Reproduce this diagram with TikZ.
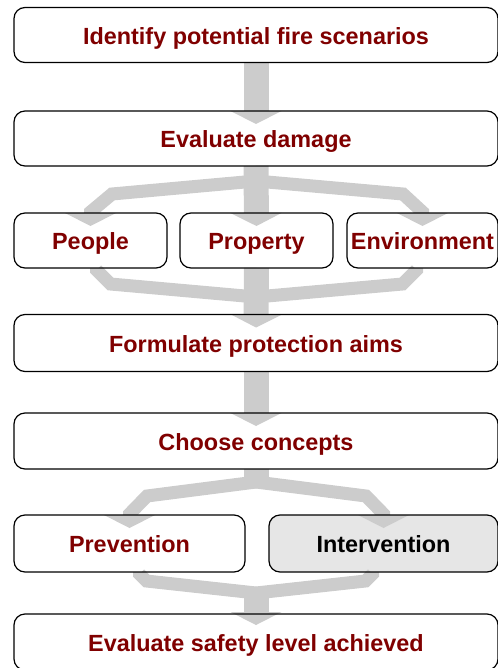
\documentclass[tikz,border=0pt]{standalone}
\usepackage{fontspec}
\setmainfont{Liberation Sans}
\usetikzlibrary{arrows.meta,positioning,calc}
\definecolor{darkred}{HTML}{800000}
\definecolor{arrowgray}{HTML}{CCCCCC}
\definecolor{boxgray}{HTML}{E6E6E6}

\begin{document}
\begin{tikzpicture}[x=1pt, y=-1pt,
  procbox/.style={fill=white, rounded corners=11pt, minimum height=55pt, inner sep=0pt, outer sep=0pt,
    text height=18.5pt, text depth=0pt, text=darkred, font=\fontsize{23.4}{27}\selectfont\bfseries},
  outline/.style={draw=black, line width=1.2pt, rounded corners=11pt},
  headtip/.style={-{Triangle[length=13pt,width=51pt,line width=0pt]}},
  shaft/.style={draw=arrowgray, line width=25pt},
  mainflow/.style={shaft, headtip},
  sideflow/.style={draw=arrowgray, line width=13pt, line join=miter},
  sidearrow/.style={sideflow, headtip}]

 \useasboundingbox (0,0) rectangle (497,668);

 %boxes
 \node[procbox, minimum width=484pt] (scen) at (256,35) {Identify potential fire scenarios};
 \node[procbox, minimum width=484pt] (damage) at (256,138.5) {Evaluate damage};
 \node[procbox, minimum width=153pt] (people) at (90.5,240.5) {People};
 \node[procbox, minimum width=153pt] (property) at (256.5,240.5) {Property};
 \node[procbox, minimum width=151pt] (environment) at (422.5,240.5) {Environment};
 \node[procbox, minimum width=484pt, minimum height=57pt] (aims) at (256,343) {Formulate protection aims};
 \node[procbox, minimum width=484pt, minimum height=56pt] (concepts) at (256,441) {Choose concepts};
 \node[procbox, minimum width=231pt, minimum height=57pt] (prevention) at (129.5,543.5) {Prevention};
 \node[procbox, minimum width=229pt, minimum height=57pt, fill=boxgray, text=black] (intervention) at (383.5,543.5) {Intervention};
 \node[procbox, minimum width=484pt, minimum height=56pt] (safety) at (256,642) {Evaluate safety level achieved};

 %arrows
 \draw[mainflow] (scen.south) -- ([yshift=-13pt]damage.north);

 \coordinate (d1) at ([yshift=-15pt]damage.south);
 \draw[mainflow] (damage.south) -- ([yshift=-13pt]property.north);
 \draw[sidearrow] (d1) -- ++(-144,13) -- ([yshift=1pt]people.north) -- ([yshift=-13pt]people.north);
 \draw[sidearrow] (d1) -- ++(147,13) -- ([yshift=1pt]environment.north) -- ([yshift=-13pt]environment.north);

 \coordinate (m1) at ([yshift=17.5pt]aims.north);
 \draw[sideflow] ([xshift=6pt]people.south) -- ++(0,2) -- ++(14,14) -- (m1);
 \draw[sideflow] ([xshift=-6pt]environment.south) -- ++(0,2) -- ++(-14,14) -- (m1);
 \draw[mainflow] (property.south) -- ([yshift=-13pt]aims.north);

 \draw[mainflow] (aims.south) -- ([yshift=-13pt]concepts.north);

 \coordinate (c1) at ([yshift=-13pt]concepts.south);
 \draw[shaft] (concepts.south) -- (c1);
 \draw[sidearrow] (c1) -- ++(-109,14) -- ([yshift=1pt]prevention.north) -- ([yshift=-13pt]prevention.north);
 \draw[sidearrow] (c1) -- ++(110,14) -- ([yshift=1pt]intervention.north) -- ([yshift=-13pt]intervention.north);

 \coordinate (p1) at ([yshift=21pt]safety.north);
 \draw[sideflow] ([xshift=10pt]prevention.south) -- ++(0,2) -- ++(7,7) -- (p1);
 \draw[sideflow] ([xshift=-11pt]intervention.south) -- ++(0,2) -- ++(-7,7) -- (p1);
 \draw[mainflow] ([yshift=3pt]p1) -- ([yshift=-11pt]safety.north);

 %borders over the arrows
 \foreach \n in {scen,damage,people,property,environment,aims,concepts,prevention,intervention,safety}
   \draw[outline] (\n.south west) rectangle (\n.north east);

\end{tikzpicture}
\end{document}
